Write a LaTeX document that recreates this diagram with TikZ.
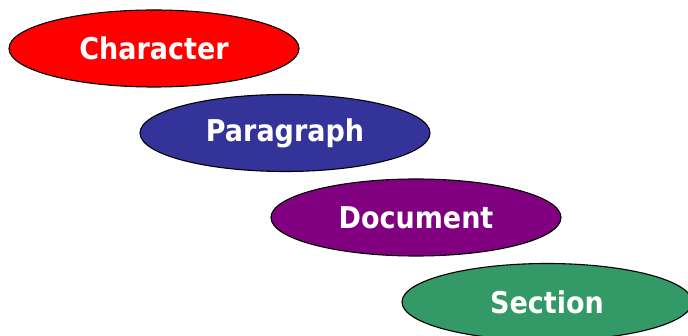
\documentclass[tikz,border=0pt]{standalone}
\usepackage{fontspec}
\newfontfamily\ovalfont[FakeStretch=0.9]{DejaVu Sans}
\usepackage{tikz}
\usetikzlibrary{
  shapes.geometric,
}
\definecolor{charRed}{HTML}{FF0000}
\definecolor{paraBlue}{HTML}{333399}
\definecolor{docPurple}{HTML}{800080}
\definecolor{secGreen}{HTML}{339966}
\tikzset{
  levelOval/.style={
    ellipse, draw=black, line width=1.1pt, fill=#1,
    minimum width=290pt, minimum height=77pt, inner sep=0pt,
    text=white, font=\ovalfont\fontsize{30}{36}\selectfont\bfseries,
  },
}
\begin{document}
\begin{tikzpicture}[x=1pt,y=-1pt]
\useasboundingbox (0,0) rectangle (688,336);
\clip (0,0) rectangle (688,336);
\node[levelOval=charRed]   (character) at (154,48.5) {Character};
\node[levelOval=paraBlue]  (paragraph) at (285,133)  {Paragraph};
\node[levelOval=docPurple] (document)  at (416,217.5) {Document};
\node[levelOval=secGreen]  (section)   at (547,302)  {Section};
\end{tikzpicture}
\end{document}
